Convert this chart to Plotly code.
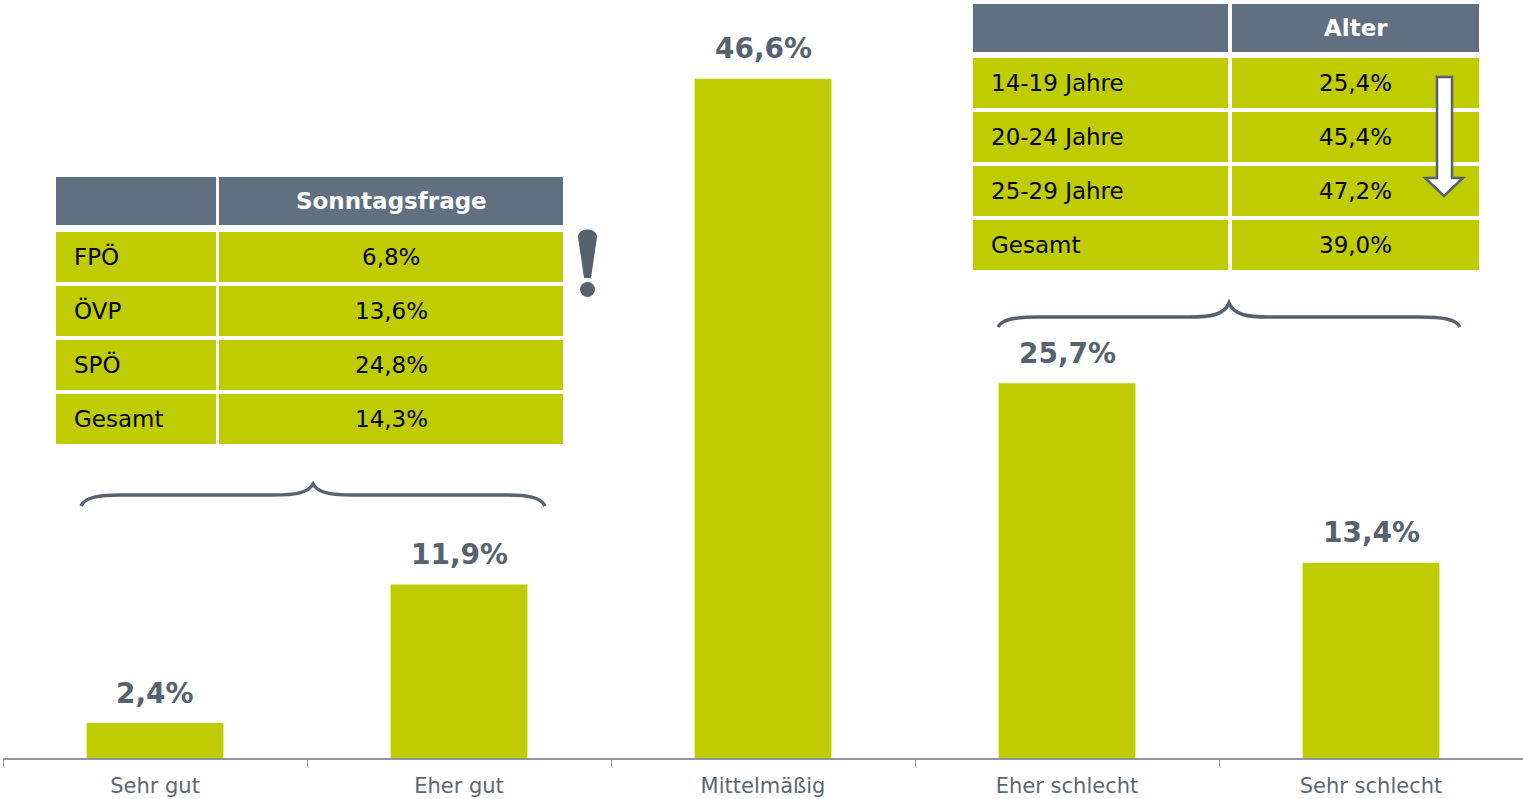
import plotly.graph_objects as go

categories = ["Sehr gut", "Eher gut", "Mittelmäßig", "Eher schlecht", "Sehr schlecht"]
values = [2.4, 11.9, 46.6, 25.7, 13.4]

party_header = "Sonntagsfrage"
party_labels = ["FPÖ", "ÖVP", "SPÖ", "Gesamt"]
party_values = [6.8, 13.6, 24.8, 14.3]

age_header = "Alter"
age_labels = ["14-19 Jahre", "20-24 Jahre", "25-29 Jahre", "Gesamt"]
age_values = [25.4, 45.4, 47.2, 39.0]

BAR = "#BFCC00"
HEAD = "#607080"
DARK = "#56626E"
FONT = "DejaVu Sans"

W, H = 1523, 799
ML, MT, MB = 3, 0, 41
PW, PH = W - ML, H - MT - MB


def fx(x):
    return (x - ML) / PW


def fy(y):
    return (MT + PH - y) / PH


def fmt(v):
    return f"{v:.1f}".replace(".", ",") + "%"


fig = go.Figure(go.Bar(x=categories, y=values, width=0.45, marker_color=BAR,
                       marker_line_width=0, hoverinfo="skip"))

annotations = []
for c, v in zip(categories, values):
    annotations.append(dict(x=c, y=v, xref="x", yref="y", text=fmt(v), showarrow=False,
                            xanchor="center", yanchor="middle", yshift=30,
                            font=dict(family=FONT, size=28, color=DARK, weight="bold")))

shapes = []


def rect(x0, y0, x1, y1, color):
    shapes.append(dict(type="rect", xref="paper", yref="paper", x0=fx(x0), x1=fx(x1),
                       y0=fy(y1), y1=fy(y0), fillcolor=color, line_width=0, layer="above"))


def note(x, y, text, size, color, bold=False, xanchor="center"):
    f = dict(family=FONT, size=size, color=color)
    if bold:
        f["weight"] = "bold"
    annotations.append(dict(x=fx(x), y=fy(y), xref="paper", yref="paper", text=text,
                            showarrow=False, xanchor=xanchor, yanchor="middle", font=f))


def table(cols, head_y, row_y0, row_step, row_h, header, labels, vals):
    (a0, a1), (b0, b1) = cols
    rect(a0, head_y[0], a1, head_y[1], HEAD)
    rect(b0, head_y[0], b1, head_y[1], HEAD)
    note((b0 + b1) / 2, (head_y[0] + head_y[1]) / 2, header, 23, "white", bold=True)
    for i, (lab, v) in enumerate(zip(labels, vals)):
        y0 = row_y0 + row_step * i
        y1 = y0 + row_h
        rect(a0, y0, a1, y1, BAR)
        rect(b0, y0, b1, y1, BAR)
        note(a0 + 16, (y0 + y1) / 2, lab, 23, "black", xanchor="left")
        note((b0 + b1) / 2, (y0 + y1) / 2, fmt(v), 23, "black")


table([(56, 216), (219, 563)], (177, 225), 232, 54, 50, party_header, party_labels, party_values)
table([(973, 1228), (1232, 1479)], (4, 52), 58, 54, 50, age_header, age_labels, age_values)


def path(cmds):
    out = []
    for cmd, pts in cmds:
        if cmd == "Z":
            out.append("Z")
        elif cmd == "L":
            for x, y in pts:
                out.append(f"L {fx(x):.5f},{fy(y):.5f}")
        else:
            out.append(cmd + " " + " ".join(f"{fx(x):.5f},{fy(y):.5f}" for x, y in pts))
    return " ".join(out)


def brace(x0, x1, y_end, y_flat, y_peak):
    xm = (x0 + x1) / 2
    return path([
        ("M", [(x0, y_end)]),
        ("C", [(x0 + 4, y_flat + 2), (x0 + 18, y_flat), (x0 + 40, y_flat)]),
        ("L", [(xm - 40, y_flat)]),
        ("C", [(xm - 18, y_flat), (xm - 5, y_flat - 2), (xm, y_peak)]),
        ("C", [(xm + 5, y_flat - 2), (xm + 18, y_flat), (xm + 40, y_flat)]),
        ("L", [(x1 - 40, y_flat)]),
        ("C", [(x1 - 18, y_flat), (x1 - 4, y_flat + 2), (x1, y_end)]),
    ])


for b in [brace(81, 545, 506, 495, 484), brace(998, 1460, 327, 317, 303)]:
    shapes.append(dict(type="path", xref="paper", yref="paper", path=b,
                       line=dict(color=DARK, width=3.5), layer="above"))

# exclamation mark
shapes.append(dict(type="path", xref="paper", yref="paper",
                   path=path([("M", [(578, 237)]),
                              ("C", [(578, 227), (597, 227), (597, 237)]),
                              ("L", [(591, 278), (584, 278)]), ("Z", [])]),
                   fillcolor=DARK, line_width=0, layer="above"))
shapes.append(dict(type="circle", xref="paper", yref="paper", x0=fx(580), x1=fx(595),
                   y0=fy(297), y1=fy(282), fillcolor=DARK, line_width=0, layer="above"))

# arrow
shapes.append(dict(type="path", xref="paper", yref="paper",
                   path=path([("M", [(1437, 77)]),
                              ("L", [(1452, 77), (1452, 178), (1463, 178), (1444, 196),
                                     (1425, 178), (1437, 178)]), ("Z", [])]),
                   fillcolor="white", line=dict(color=DARK, width=2.5), layer="above"))

fig.update_layout(
    width=W, height=H,
    margin=dict(l=ML, r=0, t=MT, b=MB),
    plot_bgcolor="white", paper_bgcolor="white",
    showlegend=False,
    shapes=shapes, annotations=annotations,
    font=dict(family=FONT),
    xaxis=dict(type="category", showline=True, linecolor="#8C96A0", linewidth=1.5,
               ticks="outside", tickson="boundaries", ticklen=7, tickcolor="#8C96A0",
               ticklabelstandoff=8,
               tickfont=dict(family=FONT, size=21, color="#5A6775"), showgrid=False),
    yaxis=dict(range=[0, 52], visible=False, showgrid=False, zeroline=False),
)

fig.write_html("out.html", config={"displayModeBar": False},
               post_script="document.body.style.margin='0';")
